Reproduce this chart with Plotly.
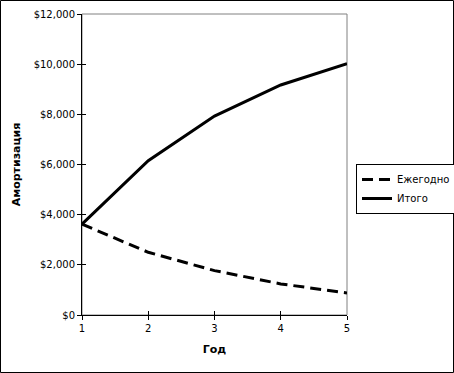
import plotly.graph_objects as go

years = [1, 2, 3, 4, 5]
annual = [3620, 2500, 1770, 1240, 880]
total = [3620, 6150, 7930, 9170, 10020]
y_ticks = [0, 2000, 4000, 6000, 8000, 10000, 12000]
y_labels = ["$0", "$2,000", "$4,000", "$6,000", "$8,000", "$10,000", "$12,000"]

W, H = 454, 373
L, R, T, B = 82, 107, 14, 58
pw, ph = W - L - R, H - T - B

font = dict(family="DejaVu Sans, Verdana, sans-serif", size=10, color="black")

fig = go.Figure()
fig.add_trace(go.Scatter(x=years, y=annual, name="Ежегодно", mode="lines",
                         line=dict(color="black", width=3, dash="11px,6px")))
fig.add_trace(go.Scatter(x=years, y=total, name="Итого", mode="lines",
                         line=dict(color="black", width=3)))
# invisible trace for inner ticks axis
fig.add_trace(go.Scatter(x=years, y=total, xaxis="x2", yaxis="y2", mode="none",
                         showlegend=False, hoverinfo="skip"))

fig.update_layout(
    width=W, height=H,
    margin=dict(l=L, r=R, t=T, b=B, autoexpand=False),
    paper_bgcolor="white", plot_bgcolor="white",
    font=font,
    xaxis=dict(range=[1, 5], tickvals=years, ticks="outside", ticklen=4,
               tickcolor="black", showline=True, linecolor="black", linewidth=1,
               showgrid=False, zeroline=False, automargin=False,
               title=dict(text="<b>Год</b>", font=dict(size=11), standoff=12)),
    yaxis=dict(range=[0, 12000], tickvals=y_ticks, ticktext=y_labels,
               ticks="outside", ticklen=4, tickcolor="black",
               showline=True, linecolor="black", linewidth=1,
               showgrid=False, zeroline=False, automargin=False,
               title=dict(text="<b>Амортизация</b>", font=dict(size=11), standoff=10)),
    xaxis2=dict(range=[1, 5], tickvals=years, ticks="inside", ticklen=4,
                tickcolor="black", showticklabels=False, showgrid=False,
                zeroline=False, overlaying="x", anchor="y", automargin=False),
    yaxis2=dict(range=[0, 12000], tickvals=y_ticks, ticks="inside", ticklen=4,
                tickcolor="black", showticklabels=False, showgrid=False,
                zeroline=False, overlaying="y", anchor="x", side="left",
                automargin=False),
    legend=dict(x=(356 - L) / pw, y=(H - B - 164) / ph, xanchor="left", yanchor="top",
                bordercolor="black", borderwidth=1, bgcolor="white",
                font=dict(size=10), tracegroupgap=0, itemwidth=30),
    showlegend=True,
    shapes=[
        # gray plot-area frame (top/right)
        dict(type="rect", xref="paper", yref="paper", x0=0, y0=0, x1=1, y1=1,
             line=dict(color="#808080", width=1), layer="below"),
        # outer chart border
        dict(type="rect", xref="paper", yref="paper",
             x0=(-L + 0.5) / pw, y0=(-B + 0.5) / ph,
             x1=(pw + R - 0.5) / pw, y1=(ph + T - 0.5) / ph,
             line=dict(color="black", width=1)),
    ],
)

fig.write_html("out.html", config={"displayModeBar": False},
               post_script="document.body.style.margin='0';document.body.style.overflow='hidden';")
